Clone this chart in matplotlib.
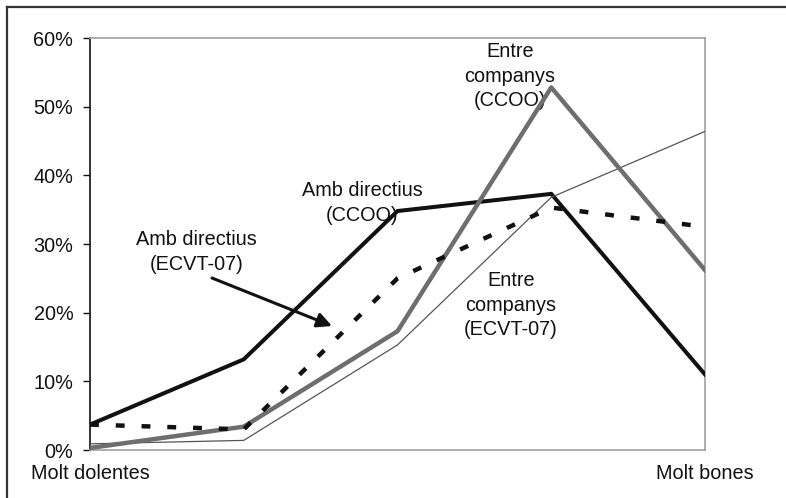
import matplotlib
matplotlib.use("Agg")
import matplotlib.pyplot as plt
from matplotlib.lines import Line2D
from matplotlib.ticker import PercentFormatter

plt.rcParams['font.family'] = ['Liberation Sans', 'DejaVu Sans']

categories = ["Molt dolentes", "", "", "", "Molt bones"]
amb_directius_ccoo = [3.7, 13.2, 34.8, 37.3, 11.0]
amb_directius_ecvt = [3.7, 3.0, 25.0, 35.3, 32.5]
entre_companys_ccoo = [0.3, 3.4, 17.3, 52.8, 26.2]
entre_companys_ecvt = [0.9, 1.4, 15.3, 36.8, 46.4]
yticks = [0, 10, 20, 30, 40, 50, 60]

W, H = 786, 498
fig = plt.figure(figsize=(W / 100, H / 100), dpi=100)
ax = fig.add_axes([90 / W, 48 / H, 615 / W, 412 / H])

x = list(range(len(categories)))
ax.plot(x, amb_directius_ccoo, color='#111111', lw=2.9, solid_joinstyle='miter', zorder=3)
ax.plot(x, entre_companys_ecvt, color='#555555', lw=0.9, zorder=4)
ax.plot(x, entre_companys_ccoo, color='#6e6e6e', lw=3.2, zorder=5)
ax.plot(x, amb_directius_ecvt, color='#111111', lw=3.2, linestyle=(0, (2.0, 3.8)),
        dash_capstyle='butt', zorder=6)

fs = 14.3
ax.set_xlim(0, len(categories) - 1)
ax.set_ylim(0, 60)
ax.set_xticks(x)
ax.set_xticklabels(categories, fontsize=fs)
ax.set_yticks(yticks)
ax.yaxis.set_major_formatter(PercentFormatter(decimals=0))
ax.tick_params(axis='y', direction='out', length=5, width=1, pad=7, labelsize=fs, colors='#111111')
ax.tick_params(axis='x', length=0, pad=10, labelsize=fs, colors='#111111')

for s in ['top', 'right', 'bottom']:
    ax.spines[s].set_color('#a0a0a0')
    ax.spines[s].set_linewidth(1.2)
ax.spines['left'].set_color('#111111')
ax.spines['left'].set_linewidth(1.2)


def px(xp, yp):
    return ((xp - 90) / 153.75, (450 - yp) / 412 * 60)


ls = 1.45
ax.text(*px(196.5, 252), "Amb directius\n(ECVT-07)", ha='center', va='center',
        fontsize=fs, linespacing=ls, color='#111111', zorder=8)
ax.text(*px(362, 203), "Amb directius\n(CCOO)", ha='center', va='center',
        fontsize=fs, linespacing=ls, color='#111111', zorder=2)
ax.text(*px(510, 76), "Entre\ncompanys\n(CCOO)", ha='center', va='center',
        fontsize=fs, linespacing=1.38, color='#111111', zorder=2)
ax.text(*px(511, 305), "Entre\ncompanys\n(ECVT-07)", ha='center', va='center',
        fontsize=fs, linespacing=1.38, color='#111111', zorder=2)

ax.annotate("", xy=px(332, 326), xytext=px(212, 278),
            arrowprops=dict(arrowstyle='-|>', lw=2.2, color='#111111',
                            mutation_scale=22, shrinkA=0, shrinkB=0), zorder=9)

# outer frame (top and left visible)
fig.add_artist(Line2D([7 / W, 1], [1 - 7 / H, 1 - 7 / H], color='#333333', lw=1.6,
                      transform=fig.transFigure))
fig.add_artist(Line2D([7 / W, 7 / W], [0, 1 - 7 / H], color='#333333', lw=1.6,
                      transform=fig.transFigure))

fig.savefig("out.png", dpi=100)
